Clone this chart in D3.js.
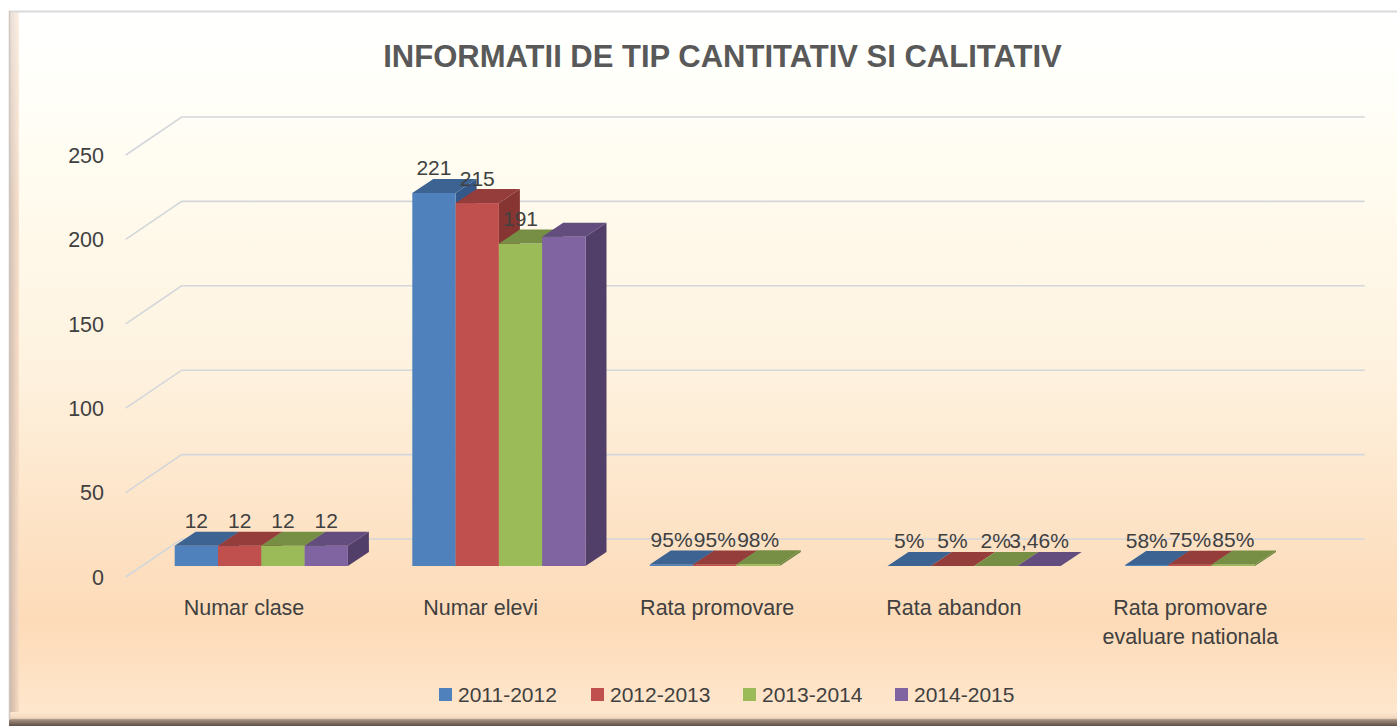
<!DOCTYPE html>
<html>
<head>
<meta charset="utf-8">
<script src="https://cdn.jsdelivr.net/npm/d3@7/dist/d3.min.js"></script>
<style>
  html, body { margin: 0; padding: 0; background: #ffffff; }
  svg { display: block; }
  text { font-family: "Liberation Sans", Arial, sans-serif; }
</style>
</head>
<body>
<svg id="chart" width="1397" height="726"></svg>
<script>
// ---------------- data ----------------
const title = "INFORMATII DE TIP CANTITATIV SI CALITATIV";
const categories = ["Numar clase", "Numar elevi", "Rata promovare", "Rata abandon", "Rata promovare\nevaluare nationala"];
const series = ["2011-2012", "2012-2013", "2013-2014", "2014-2015"];
const values2011_2012 = [12, 221, 0.95, 0.05, 0.58];
const values2012_2013 = [12, 215, 0.95, 0.05, 0.75];
const values2013_2014 = [12, 191, 0.98, 0.02, 0.85];
const values2014_2015 = [12, 195, null, 0.0346, null];
const hiddenLabels = [["2014-2015", "Numar elevi"]];
const yTicks = [0, 50, 100, 150, 200, 250];

const seriesValues = [values2011_2012, values2012_2013, values2013_2014, values2014_2015];
const frontColors = ["#4f81bd", "#c0504d", "#9bbb59", "#8064a2"];
const topColors   = ["#3c6392", "#943d3b", "#778f45", "#624d7e"];
const sideColors  = ["#35588a", "#873533", "#6d843e", "#523f69"];

// ---------------- layout ----------------
const svg = d3.select("#chart");
const W = 1397, H = 726;
const defs = svg.append("defs");

const bg = defs.append("linearGradient").attr("id", "bgGrad").attr("x1", 0).attr("y1", 0).attr("x2", 0).attr("y2", 1);
[[0, "#ffffff"], [0.08, "#fffffb"], [0.25, "#fffbee"], [0.5, "#fef2df"], [0.75, "#fde1c3"], [0.86, "#fddbb8"], [0.97, "#fee5ca"], [1, "#fee9d3"]]
  .forEach(([o, c]) => bg.append("stop").attr("offset", o).attr("stop-color", c));

const bevL = defs.append("linearGradient").attr("id", "bevL").attr("x1", 0).attr("y1", 0).attr("x2", 1).attr("y2", 0);
[[0, "#c8b4a6"], [0.5, "#e2c8b4"], [1, "#f8dcc2"]].forEach(([o, c]) => bevL.append("stop").attr("offset", o).attr("stop-color", c));
const bevLv = defs.append("linearGradient").attr("id", "bevLv").attr("x1", 0).attr("y1", 0).attr("x2", 0).attr("y2", 1);
[[0, "#ffffff", 0.55], [0.3, "#ffffff", 0.15], [1, "#ffffff", 0]].forEach(([o, c, a]) => bevLv.append("stop").attr("offset", o).attr("stop-color", c).attr("stop-opacity", a));
const bevB = defs.append("linearGradient").attr("id", "bevB").attr("x1", 0).attr("y1", 0).attr("x2", 0).attr("y2", 1);
[[0, "#fee8d0"], [0.45, "#f2d6bd"], [0.55, "#a48f80"], [1, "#5e4f46"]].forEach(([o, c]) => bevB.append("stop").attr("offset", o).attr("stop-color", c));

// frame
svg.append("rect").attr("x", 9).attr("y", 11).attr("width", W).attr("height", 712).attr("fill", "url(#bgGrad)");
svg.append("rect").attr("x", 9).attr("y", 11).attr("width", 10).attr("height", 707).attr("fill", "url(#bevL)");
svg.append("rect").attr("x", 9).attr("y", 11).attr("width", 10).attr("height", 707).attr("fill", "url(#bevLv)");
svg.append("rect").attr("x", 9).attr("y", 712).attr("width", W).attr("height", 14).attr("fill", "url(#bevB)");
svg.append("line").attr("x1", 9).attr("x2", W).attr("y1", 11.5).attr("y2", 11.5).attr("stroke", "#d9d9d9").attr("stroke-width", 2);
svg.append("line").attr("x1", 9.5).attr("x2", 9.5).attr("y1", 11).attr("y2", 720).attr("stroke", "#cfc6c0").attr("stroke-width", 1.5);

// scales
const xFront = d3.scaleBand().domain(categories).range([125.7, 1308.7]);   // front floor plane
const xBars = d3.scaleBand().domain(categories).range([142.5, 1330.5]);    // bar front plane
const yFront = d3.scaleLinear().domain([0, 250]).range([577, 155]);        // front floor plane
const DEPTH_DX = 56, DEPTH_DY = -38;     // full floor depth
const BAR_DZ = 11;                       // bar front plane offset (vertical)
const BAR_DX = 21, BAR_DY = -14;         // bar depth
const groupW = 173.2;
const xSeries = d3.scaleBand().domain(series).range([-groupW / 2, groupW / 2]);
const yBar = v => yFront(v) - BAR_DZ;

// gridlines (side wall diagonal + back wall)
const x0 = xFront.range()[0], x1 = xFront.range()[1];
const grid = svg.append("g").attr("fill", "none").attr("stroke", "#d3d6da").attr("stroke-width", 1.6);
yTicks.forEach(t => {
  const yf = yFront(t);
  grid.append("path").attr("d", `M${x0},${yf} L${x0 + DEPTH_DX},${yf + DEPTH_DY} L${x1 + DEPTH_DX},${yf + DEPTH_DY}`);
});

// y tick labels
svg.append("g").selectAll("text").data(yTicks).join("text")
  .attr("x", 104).attr("y", d => yFront(d)).attr("dy", "0.36em")
  .attr("text-anchor", "end").attr("font-size", 21.5).attr("fill", "#404040")
  .text(d => d);

// bars
const barsG = svg.append("g");
const labelData = [];
categories.forEach((cat, ci) => {
  series.forEach((s, si) => {
    const v = seriesValues[si][ci];
    if (v === null || v === undefined) return;
    const bx = xBars(cat) + xBars.bandwidth() / 2 + xSeries(s);
    const w = xSeries.bandwidth();
    const yb = yBar(0), yt = yBar(v);
    const g = barsG.append("g");
    g.append("polygon")
      .attr("points", [[bx + w, yt], [bx + w + BAR_DX, yt + BAR_DY], [bx + w + BAR_DX, yb + BAR_DY], [bx + w, yb]].map(p => p.join(",")).join(" "))
      .attr("fill", sideColors[si]);
    g.append("rect").attr("x", bx).attr("y", yt).attr("width", w).attr("height", Math.max(0, yb - yt))
      .attr("fill", frontColors[si]);
    g.append("polygon")
      .attr("points", [[bx, yt], [bx + w, yt], [bx + w + BAR_DX, yt + BAR_DY], [bx + BAR_DX, yt + BAR_DY]].map(p => p.join(",")).join(" "))
      .attr("fill", topColors[si]);
    const hidden = hiddenLabels.some(h => h[0] === s && h[1] === cat);
    if (!hidden) labelData.push({ x: bx + w / 2, y: yt + BAR_DY - 3.5, v });
  });
});

const fmtVal = v => {
  if (v < 1) {
    const p = Math.round(v * 10000) / 100;
    return String(p).replace(".", ",") + "%";
  }
  return String(v);
};

svg.append("g").selectAll("text").data(labelData).join("text")
  .attr("x", d => d.x).attr("y", d => d.y)
  .attr("text-anchor", "middle").attr("font-size", 21).attr("fill", "#404040")
  .text(d => fmtVal(d.v));

// category labels
const catG = svg.append("g");
categories.forEach(cat => {
  const lines = cat.split("\n");
  const t = catG.append("text")
    .attr("x", xFront(cat) + xFront.bandwidth() / 2).attr("y", 615)
    .attr("text-anchor", "middle").attr("font-size", 21.5).attr("fill", "#404040");
  lines.forEach((ln, i) => {
    t.append("tspan").attr("x", xFront(cat) + xFront.bandwidth() / 2).attr("dy", i === 0 ? 0 : 29).text(ln);
  });
});

// title
svg.append("text").attr("x", 722.5).attr("y", 67)
  .attr("text-anchor", "middle").attr("font-size", 31).attr("font-weight", "bold").attr("fill", "#595959")
  .text(title);

// legend
const legendX = d3.scalePoint().domain(series).range([439, 895]);
const lg = svg.append("g").selectAll("g").data(series).join("g")
  .attr("transform", d => `translate(${legendX(d)},0)`);
lg.append("rect").attr("x", 0).attr("y", 688).attr("width", 13).attr("height", 13)
  .attr("fill", (d, i) => frontColors[i]);
lg.append("text").attr("x", 19).attr("y", 701.5).attr("font-size", 21).attr("fill", "#404040").text(d => d);
</script>
</body>
</html>
